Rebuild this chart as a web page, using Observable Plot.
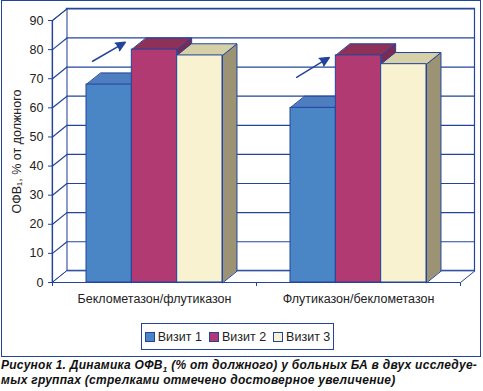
<!DOCTYPE html>
<html><head><meta charset="utf-8">
<script src="https://cdn.jsdelivr.net/npm/d3@7"></script>
<script src="https://cdn.jsdelivr.net/npm/@observablehq/plot@0.6"></script>
<style>
body{margin:0;background:#fff;}
#wrap{position:relative;width:483px;height:391px;font-family:"Liberation Sans",Arial,sans-serif;overflow:hidden}
#frame{position:absolute;left:1px;top:0;width:480px;height:357px;box-sizing:border-box;border:1.5px solid #23449c;pointer-events:none}
#chart{position:absolute;left:0;top:0}
#chart svg text{fill:#222}
#legend{position:absolute;left:141px;top:323px;width:193px;height:27px;box-sizing:border-box;border:1.5px solid #23449c;display:flex;align-items:center;justify-content:center;gap:7px;font-size:12.5px;color:#222}
.sw{display:inline-block;width:8px;height:8px;border:1px solid #23449c;margin-right:3px;vertical-align:-1px}
#caption{position:absolute;left:1px;top:358px;font-weight:bold;font-style:italic;font-size:12px;letter-spacing:0.27px;line-height:15px;color:#111;white-space:nowrap}
#caption sub{font-size:8px;line-height:0}
</style></head><body>
<div id="wrap"><div id="chart"></div><div id="frame"></div><div id="legend"></div>
<div id="caption">Рисунок 1. Динамика ОФВ<sub>1</sub> (% от должного) у больных БА в двух исследуе-<br>мых группах (стрелками отмечено достоверное увеличение)</div></div>
<script>
const groups = ["Беклометазон/флутиказон", "Флутиказон/беклометазон"];
const visits = ["Визит 1", "Визит 2", "Визит 3"];
const visit1 = [68, 60];
const visit2 = [80, 78];
const visit3 = [78, 75];
const yTicks = [0, 10, 20, 30, 40, 50, 60, 70, 80, 90];
const arrowFromLevel = [76, 70.5];
const arrowToLevel = [82.5, 77.3];
const yLabel = "ОФВ₁, % от должного";

const LINE = "#23449c";
const faceColors = [
  {front: "#4a86c6", top: "#4e7ebf", side: "#3b69a6"},
  {front: "#b03a71", top: "#8e3159", side: "#7e2a50"},
  {front: "#f8f2d0", top: "#d6d0a6", side: "#9b9373"}
];
const series = [visit1, visit2, visit3];
const nG = groups.length;
const YMAX = 90;
const DX = 0.071, DY = 4.0;
const barW = 2 / 9, groupPad = 1 / 6;

const bars = [];
groups.forEach((gName, g) => visits.forEach((vName, v) => {
  const x1 = g + groupPad + v * barW;
  bars.push({g, v, value: series[v][g], x1, x2: x1 + barW});
}));
const pts = (id, arr) => arr.map(([x, y]) => ({id, x, y}));
const topPoly = b => pts(`${b.g}-${b.v}`, [[b.x1, b.value], [b.x2, b.value], [b.x2 + DX, b.value + DY], [b.x1 + DX, b.value + DY]]);
const sidePoly = b => pts(`${b.g}-${b.v}`, [[b.x2, 0], [b.x2, b.value], [b.x2 + DX, b.value + DY], [b.x2 + DX, DY]]);
const poly = (data, fill) => Plot.line(data, {x: "x", y: "y", z: "id", fill, stroke: LINE, strokeWidth: 1, curve: "linear-closed"});

const marks = [
  Plot.rect([0], {x1: DX, x2: nG + DX, y1: DY, y2: YMAX + DY, fill: "#fff", stroke: LINE, strokeWidth: 1.2}),
  poly(pts("lw", [[0, 0], [DX, DY], [DX, YMAX + DY], [0, YMAX]]), "#fff"),
  Plot.ruleY(yTicks, {y: d => d + DY, x1: DX, x2: nG + DX, stroke: LINE, strokeWidth: 1.2}),
  Plot.link(yTicks, {x1: 0, x2: DX, y1: d => d, y2: d => d + DY, stroke: LINE, strokeWidth: 1.2}),
  poly(pts("fl", [[0, 0], [nG, 0], [nG + DX, DY], [DX, DY]]), "#fff"),
  Plot.ruleX([0], {y1: 0, y2: YMAX, stroke: LINE, strokeWidth: 1.2}),
  ...faceColors.map((c, k) => poly(bars.filter(b => b.v === k).flatMap(sidePoly), c.side)),
  ...faceColors.map((c, k) => poly(bars.filter(b => b.v === k).flatMap(topPoly), c.top)),
  ...faceColors.map((c, k) => Plot.rect(bars.filter(b => b.v === k), {x1: "x1", x2: "x2", y1: 0, y2: "value", fill: c.front, stroke: LINE, strokeWidth: 1})),
  Plot.arrow(groups.map((d, g) => ({
    x1: g + groupPad + 0.03, y1: arrowFromLevel[g],
    x2: g + groupPad + 0.19, y2: arrowToLevel[g]
  })), {x1: "x1", y1: "y1", x2: "x2", y2: "y2", stroke: LINE, fill: LINE, strokeWidth: 1.5, headLength: 10, headAngle: 50}),
  Plot.text(groups, {x: (d, i) => i + 0.5, y: 0, dy: 16, text: d => d, fontSize: 12.5}),
  Plot.text([yLabel], {frameAnchor: "left", textAnchor: "middle", rotate: -90, dx: -36, text: d => d, fontSize: 12.5})
];

const chart = Plot.plot({
  width: 483, height: 310,
  marginLeft: 52, marginRight: 23, marginTop: 20, marginBottom: 28,
  x: {domain: [0, nG], ticks: d3.range(nG + 1), tickFormat: () => "", tickSize: 4, label: null},
  y: {domain: [0, YMAX], ticks: yTicks, tickSize: 4, label: null},
  style: {fontFamily: "'Liberation Sans', Arial, sans-serif", fontSize: "12.5px", color: LINE, background: "transparent"},
  marks
});
document.getElementById("chart").appendChild(chart);

const legend = document.getElementById("legend");
visits.forEach((v, k) => {
  const s = document.createElement("span");
  s.innerHTML = `<span class="sw" style="background:${faceColors[k].front}"></span>${v}`;
  legend.appendChild(s);
});
</script>
</body></html>
